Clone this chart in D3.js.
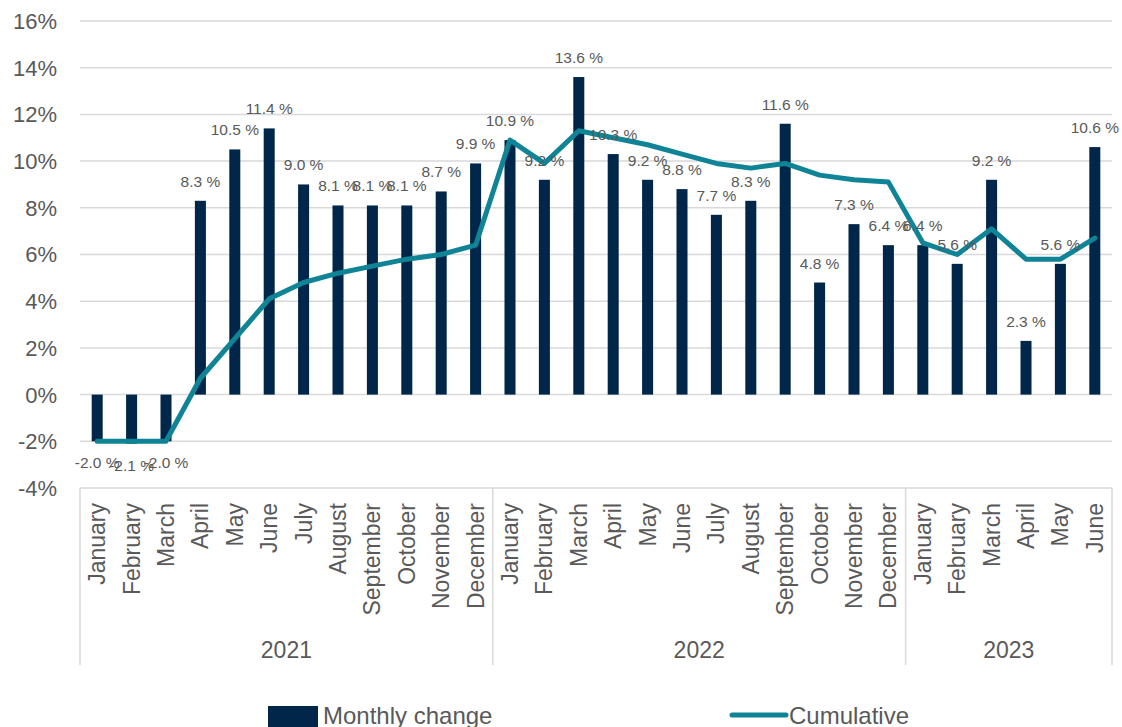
<!DOCTYPE html>
<html>
<head>
<meta charset="utf-8">
<script src="https://cdn.jsdelivr.net/npm/d3@7"></script>
<style>
  body { margin: 0; background: #fff; }
  svg { display: block; font-family: "Liberation Sans", Arial, sans-serif; }
</style>
</head>
<body>
<div id="chart"></div>
<script>
const months = ["January", "February", "March", "April", "May", "June", "July", "August",
    "September", "October", "November", "December",
    "January", "February", "March", "April", "May", "June", "July", "August",
    "September", "October", "November", "December",
    "January", "February", "March", "April", "May", "June"];
const years = ["2021", "2022", "2023"];
const yearLengths = [12, 12, 6];
const monthly = [-2.0, -2.1, -2.0, 8.3, 10.5, 11.4, 9.0, 8.1, 8.1, 8.1, 8.7, 9.9,
    10.9, 9.2, 13.6, 10.3, 9.2, 8.8, 7.7, 8.3, 11.6, 4.8, 7.3, 6.4,
    6.4, 5.6, 9.2, 2.3, 5.6, 10.6];
const cumulative = [-2.0, -2.0, -2.0, 0.7, 2.4, 4.1, 4.8, 5.2, 5.5, 5.8, 6.0, 6.4,
    10.9, 9.9, 11.3, 11.0, 10.7, 10.3, 9.9, 9.7, 9.9, 9.4, 9.2, 9.1,
    6.5, 6.0, 7.1, 5.8, 5.8, 6.7];
const yTicks = [-4, -2, 0, 2, 4, 6, 8, 10, 12, 14, 16];

// Excel style: plain hyphen for negatives, space before the percent sign
const fmtLabel = v => v.toFixed(1) + " %";

const drawChart = id => {
    const width = 1122;
    const height = 727;
    const left = 80, right = 1112, top = 21, bottom = 488;

    const svg = d3.select(id)
        .append("svg")
        .attr("width", width)
        .attr("height", height);

    const idx = d3.range(months.length);
    const x = d3.scaleBand()
        .domain(idx)
        .range([left, right])
        .paddingInner(0.68)
        .paddingOuter(0.34);
    const cx = i => x(i) + x.bandwidth() / 2;

    const y = d3.scaleLinear().domain([-4, 16]).range([bottom, top]);

    // gridlines
    svg.append("g")
        .selectAll("line")
        .data(yTicks)
        .join("line")
        .attr("x1", left)
        .attr("x2", right)
        .attr("y1", d => y(d))
        .attr("y2", d => y(d))
        .attr("stroke", "#d9d9d9")
        .attr("stroke-width", 1.5);

    // y labels
    svg.append("g")
        .selectAll("text")
        .data(yTicks)
        .join("text")
        .attr("x", 57)
        .attr("y", d => y(d))
        .attr("dy", "0.36em")
        .attr("text-anchor", "end")
        .attr("font-size", 22)
        .attr("fill", "#595959")
        .text(d => d + "%");

    // category axis frame
    const step = x.step();
    const bounds = [0];
    yearLengths.forEach(n => bounds.push(bounds[bounds.length - 1] + n));
    svg.append("g")
        .selectAll("line")
        .data(bounds)
        .join("line")
        .attr("x1", d => left + d * step)
        .attr("x2", d => left + d * step)
        .attr("y1", bottom)
        .attr("y2", 665)
        .attr("stroke", "#d9d9d9")
        .attr("stroke-width", 1.5);

    svg.append("g")
        .selectAll("text")
        .data(idx)
        .join("text")
        .attr("transform", i => `translate(${cx(i)},503) rotate(-90)`)
        .attr("dy", "0.35em")
        .attr("text-anchor", "end")
        .attr("font-size", 23)
        .attr("fill", "#595959")
        .text(i => months[i]);

    svg.append("g")
        .selectAll("text")
        .data(years)
        .join("text")
        .attr("x", (d, i) => left + (bounds[i] + bounds[i + 1]) / 2 * step)
        .attr("y", 658)
        .attr("text-anchor", "middle")
        .attr("font-size", 23)
        .attr("fill", "#595959")
        .text(d => d);

    // bars
    svg.append("g")
        .selectAll("rect")
        .data(idx)
        .join("rect")
        .attr("x", i => x(i))
        .attr("width", x.bandwidth())
        .attr("y", i => y(Math.max(0, monthly[i])))
        .attr("height", i => Math.abs(y(monthly[i]) - y(0)))
        .attr("fill", "#002649");

    // cumulative line
    const line = d3.line()
        .x(i => cx(i))
        .y(i => y(cumulative[i]));
    svg.append("path")
        .attr("d", line(idx))
        .attr("fill", "none")
        .attr("stroke", "#0f8497")
        .attr("stroke-width", 5)
        .attr("stroke-linejoin", "round")
        .attr("stroke-linecap", "round");

    // bar labels
    svg.append("g")
        .selectAll("text")
        .data(idx)
        .join("text")
        .attr("x", i => cx(i))
        .attr("y", i => monthly[i] >= 0 ? y(monthly[i]) - 14 : y(monthly[i]) + 27)
        .attr("text-anchor", "middle")
        .attr("font-size", 15.5)
        .attr("fill", "#595959")
        .text(i => fmtLabel(monthly[i]));

    // legend
    const legend = svg.append("g");
    legend.append("rect")
        .attr("x", 268).attr("y", 706)
        .attr("width", 50).attr("height", 22)
        .attr("fill", "#002649");
    legend.append("text")
        .attr("x", 323).attr("y", 724)
        .attr("font-size", 24)
        .attr("fill", "#595959")
        .text("Monthly change");
    legend.append("line")
        .attr("x1", 732).attr("x2", 786)
        .attr("y1", 715).attr("y2", 715)
        .attr("stroke", "#0f8497")
        .attr("stroke-width", 5)
        .attr("stroke-linecap", "round");
    legend.append("text")
        .attr("x", 789).attr("y", 724)
        .attr("font-size", 24)
        .attr("fill", "#595959")
        .text("Cumulative");
};

drawChart("#chart");
</script>
</body>
</html>
